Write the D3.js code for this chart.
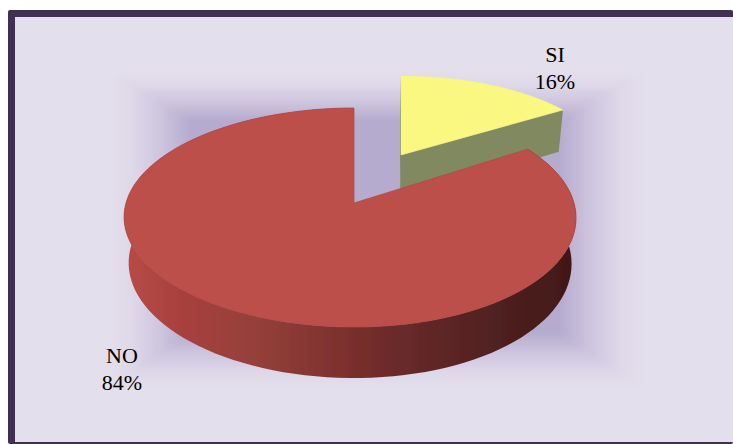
<!DOCTYPE html>
<html><head><meta charset="utf-8">
<script src="https://cdn.jsdelivr.net/npm/d3@7/dist/d3.min.js"></script>
<style>html,body{margin:0;padding:0;background:#fff}svg{display:block}text{font-family:"Liberation Serif","Times New Roman",serif;font-size:22px;fill:#000;text-anchor:middle}</style>
</head><body><svg id="c" width="733" height="444"></svg>
<script>
const categories = ["SI", "NO"];
const percents = [16, 84];
const labelLines = [["SI", "16%"], ["NO", "84%"]];
const labelAnchors = [[555, 62], [122, 363]];
const sideStops = [[127,"#b84a46"],[180,"#a8413e"],[260,"#943f39"],[350,"#7a2f2d"],[400,"#692a2a"],[500,"#4f2020"],[572,"#421818"]];
const sliceStyle = [
  {top:"#faf880", vx:401, vy:155, rx:207, ry:90.7, k:0.148, sideA:"#80895e"},
  {top:"#bd4f4b", vx:354, vy:203, rx:224, ry:107.6, k:0.1324}
];

const svg = d3.select("#c");
const defs = svg.append("defs");
defs.append("filter").attr("id","soft").append("feGaussianBlur").attr("stdDeviation",0.45);
defs.append("filter").attr("id","softBg").attr("x","-5%").attr("y","-5%").attr("width","110%").attr("height","110%")
  .append("feGaussianBlur").attr("stdDeviation",1.6);

// frame
svg.append("rect").attr("x",8).attr("y",10).attr("width",725).attr("height",434).attr("rx",2).attr("fill","#403152");
svg.append("rect").attr("x",15).attr("y",17).attr("width",718).attr("height",425).attr("fill","#e4dfec");

// rectangular path gradient behind the pie
const outer = {x0:110,y0:72,x1:643,y1:388}, inner = {x0:190,y0:120,x1:560,y1:333};
const centreColor = "#b5abcf";
const bandStops = [[0,"#e4dfec"],[0.3,"#ddd7e8"],[0.65,"#cdc4de"],[1,centreColor]];
const bands = [
 {id:"bt",g:[0,outer.y0,0,inner.y0],p:[[outer.x0,outer.y0],[outer.x1,outer.y0],[inner.x1,inner.y0],[inner.x0,inner.y0]]},
 {id:"bb",g:[0,outer.y1,0,inner.y1],p:[[outer.x0,outer.y1],[outer.x1,outer.y1],[inner.x1,inner.y1],[inner.x0,inner.y1]]},
 {id:"bl",g:[outer.x0,0,inner.x0,0],p:[[outer.x0,outer.y0],[inner.x0,inner.y0],[inner.x0,inner.y1],[outer.x0,outer.y1]]},
 {id:"br",g:[outer.x1,0,inner.x1,0],p:[[outer.x1,outer.y0],[inner.x1,inner.y0],[inner.x1,inner.y1],[outer.x1,outer.y1]]}
];
bands.forEach(b=>{
  const lg=defs.append("linearGradient").attr("id",b.id).attr("gradientUnits","userSpaceOnUse")
    .attr("x1",b.g[0]).attr("y1",b.g[1]).attr("x2",b.g[2]).attr("y2",b.g[3]);
  bandStops.forEach(s=>lg.append("stop").attr("offset",s[0]).attr("stop-color",s[1]));
});
const bg = svg.append("g").attr("filter","url(#softBg)");
bg.append("rect").attr("x",inner.x0-1).attr("y",inner.y0-1).attr("width",inner.x1-inner.x0+2).attr("height",inner.y1-inner.y0+2).attr("fill",centreColor);
bg.selectAll("polygon.band").data(bands).join("polygon").attr("class","band")
  .attr("points",d=>d.p.join(" ")).attr("fill",d=>`url(#${d.id})`);

// side gradients
const sideG = defs.append("linearGradient").attr("id","sideNo").attr("gradientUnits","userSpaceOnUse")
  .attr("x1",127).attr("y1",0).attr("x2",572).attr("y2",0);
const px = d3.scaleLinear().domain([127,572]).range([0,1]);
sideStops.forEach(s=>sideG.append("stop").attr("offset",px(s[0])).attr("stop-color",s[1]));

// pie
const pie = d3.pie().sort(null).value(d=>d)(percents);
const skew = 4, shrink = 0.98, baseX = 352;
const depth = v => 45 - 6*v;
function upper(s,a,r=1){
  const u=r*Math.sin(a), v=r*Math.cos(a), w=1+s.k*v;
  return [s.vx + s.rx*u/w - (s===sliceStyle[1]?skew*u*u:0), s.vy - s.ry*v/w];
}
function lower(s,a,r=1){
  const p=upper(s,a,r), v=r*Math.cos(a);
  return [baseX+(p[0]-baseX)*shrink, p[1]+depth(v)];
}
const rim = (s,a0,a1) => d3.range(0,121).map(i=>a0+(a1-a0)*i/120).map(a=>upper(s,a));
const line = d3.line();
const g = svg.append("g").attr("filter","url(#soft)");

// SI slice: walls then top
{
  const d=pie[0], s=sliceStyle[0];
  const a0=d.startAngle,a1=d.endAngle;
  g.append("path").attr("fill",s.sideA)
    .attr("d",line([upper(s,a0),upper(s,a0,0),lower(s,a0,0),lower(s,a0)])+"Z");
  g.append("path").attr("fill",s.sideA)
    .attr("d",line([upper(s,a1,0),upper(s,a1),lower(s,a1),lower(s,a1,0)])+"Z");
  g.append("path").attr("fill",s.top).attr("stroke","#f3f08a").attr("stroke-width",0.6)
    .attr("d",line([upper(s,a0,0),...rim(s,a0,a1)])+"Z");
}
// NO slice: wall then top
{
  const d=pie[1], s=sliceStyle[1];
  const a0=d.startAngle,a1=d.endAngle;
  const tops=rim(s,a0,a1);
  const lows=d3.range(0,121).map(i=>a0+(a1-a0)*i/120).map(a=>lower(s,a));
  g.append("path").attr("fill","url(#sideNo)").attr("d",line([...tops,...lows.reverse()])+"Z");
  g.append("path").attr("fill",s.top).attr("stroke","#b24a47").attr("stroke-width",0.8)
    .attr("d",line([upper(s,a0,0),...tops])+"Z");
}

// labels
svg.selectAll("text.lab").data(categories.flatMap((c,i)=>labelLines[i].map((t,j)=>({t,x:labelAnchors[i][0],y:labelAnchors[i][1]+j*27}))))
  .join("text").attr("class","lab").attr("x",d=>d.x).attr("y",d=>d.y).text(d=>d.t);
</script></body></html>
